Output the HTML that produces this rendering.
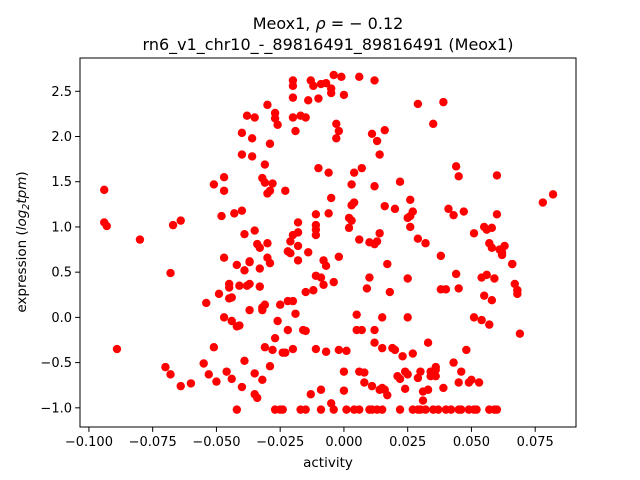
<!DOCTYPE html>
<html><head><meta charset="utf-8"><style>
html,body{margin:0;padding:0;background:#fff;}
svg{display:block;font-family:"DejaVu Sans","Liberation Sans",sans-serif;}
</style></head><body>
<svg id="chart" width="640" height="480" viewBox="0 0 640 480" xmlns="http://www.w3.org/2000/svg">
<rect width="640" height="480" fill="#fff"/>
<text x="328" y="29" text-anchor="middle" font-size="16">Meox1, <tspan font-style="italic">ρ</tspan> = − 0.12</text>
<text x="328" y="50" text-anchor="middle" font-size="16">rn6_v1_chr10_-_89816491_89816491 (Meox1)</text>
<g id="points"></g>
<rect x="80" y="58" width="496" height="369" fill="none" stroke="#000" stroke-width="1"/>
<g id="xaxis"></g>
<g id="yaxis"></g>
<text x="328" y="467" text-anchor="middle" font-size="13.5">activity</text>
<text transform="translate(26,242) rotate(-90)" text-anchor="middle" font-size="13.5">expression (<tspan font-style="italic">log</tspan><tspan font-size="9.5" dy="3" font-style="italic">2</tspan><tspan dy="-3" font-style="italic">tpm</tspan>)</text>
</svg>
<script>
const xTicks=[-0.100,-0.075,-0.050,-0.025,0.000,0.025,0.050,0.075];
const xTickLabels=["−0.100","−0.075","−0.050","−0.025","0.000","0.025","0.050","0.075"];
const yTicks=[-1.0,-0.5,0.0,0.5,1.0,1.5,2.0,2.5];
const yTickLabels=["−1.0","−0.5","0.0","0.5","1.0","1.5","2.0","2.5"];
const activity=[-0.094,-0.094,-0.093,-0.089,-0.080,-0.070,-0.068,-0.068,-0.067,-0.064,-0.064,-0.060,-0.055,-0.054,-0.053,-0.051,-0.051,-0.050,-0.049,-0.048,-0.047,-0.047,-0.047,-0.047,-0.046,-0.045,-0.045,-0.045,-0.044,-0.044,-0.044,-0.043,-0.042,-0.042,-0.042,-0.041,-0.041,-0.040,-0.040,-0.040,-0.040,-0.039,-0.039,-0.039,-0.038,-0.038,-0.037,-0.037,-0.037,-0.037,-0.036,-0.036,-0.035,-0.035,-0.035,-0.035,-0.034,-0.034,-0.033,-0.033,-0.033,-0.032,-0.032,-0.032,-0.032,-0.031,-0.031,-0.031,-0.031,-0.030,-0.030,-0.030,-0.030,-0.029,-0.029,-0.029,-0.029,-0.028,-0.028,-0.027,-0.027,-0.027,-0.027,-0.026,-0.026,-0.025,-0.025,-0.024,-0.024,-0.023,-0.023,-0.022,-0.022,-0.022,-0.021,-0.021,-0.020,-0.020,-0.020,-0.020,-0.020,-0.020,-0.020,-0.019,-0.019,-0.018,-0.018,-0.018,-0.018,-0.017,-0.017,-0.016,-0.015,-0.015,-0.015,-0.015,-0.014,-0.014,-0.013,-0.013,-0.012,-0.012,-0.011,-0.011,-0.011,-0.011,-0.011,-0.011,-0.010,-0.010,-0.009,-0.009,-0.009,-0.009,-0.008,-0.008,-0.007,-0.007,-0.007,-0.006,-0.006,-0.005,-0.005,-0.005,-0.005,-0.004,-0.004,-0.004,-0.003,-0.003,-0.002,-0.002,-0.002,-0.001,0.000,0.000,0.000,0.001,0.001,0.002,0.002,0.003,0.003,0.003,0.004,0.004,0.004,0.005,0.005,0.006,0.006,0.006,0.006,0.007,0.007,0.008,0.008,0.009,0.010,0.010,0.010,0.011,0.011,0.011,0.012,0.012,0.012,0.012,0.012,0.013,0.013,0.013,0.014,0.014,0.014,0.015,0.015,0.015,0.015,0.016,0.016,0.016,0.017,0.017,0.018,0.019,0.020,0.020,0.021,0.022,0.022,0.022,0.023,0.024,0.024,0.025,0.025,0.025,0.025,0.026,0.026,0.026,0.027,0.027,0.027,0.029,0.029,0.029,0.029,0.030,0.030,0.031,0.031,0.032,0.032,0.033,0.033,0.034,0.034,0.035,0.035,0.036,0.036,0.036,0.037,0.038,0.038,0.039,0.039,0.040,0.040,0.041,0.042,0.043,0.043,0.044,0.044,0.045,0.045,0.045,0.045,0.046,0.046,0.047,0.048,0.049,0.049,0.050,0.051,0.051,0.051,0.052,0.053,0.054,0.054,0.055,0.055,0.056,0.056,0.057,0.057,0.057,0.058,0.058,0.058,0.059,0.059,0.060,0.060,0.060,0.061,0.062,0.062,0.063,0.066,0.066,0.067,0.068,0.068,0.068,0.069,0.078,0.082];
const expression=[1.41,1.05,1.01,-0.35,0.86,-0.55,-0.63,0.49,1.02,1.07,-0.76,-0.73,-0.51,0.16,-0.63,-0.33,1.47,-0.71,0.26,1.12,0.66,1.55,1.40,0.00,-0.60,0.33,0.21,0.37,-0.04,-0.68,0.22,1.15,0.58,-1.02,-0.10,0.35,-0.09,1.80,2.04,-0.77,1.18,0.92,-0.48,0.52,0.35,2.23,0.61,0.62,0.37,0.08,1.98,1.78,0.96,-0.62,-0.85,2.21,-0.89,0.81,0.77,0.34,0.54,0.08,0.11,-0.69,1.54,1.69,0.14,1.49,-0.33,2.35,1.37,0.66,0.82,1.92,-0.54,1.40,0.60,-0.36,1.48,2.26,2.20,-0.23,-1.02,2.13,-0.04,0.14,-1.02,-0.39,-1.02,-0.39,1.40,0.73,-0.14,0.18,0.71,0.84,2.43,2.56,2.62,0.91,-0.35,2.21,0.18,2.06,0.04,0.79,1.05,0.94,0.63,-1.02,2.23,-0.14,-0.15,-1.02,0.28,2.21,2.40,0.72,2.62,-0.85,0.30,2.56,0.91,0.46,-0.35,1.14,1.02,0.97,2.42,1.65,-0.80,0.44,-1.02,2.58,0.36,0.63,0.57,2.59,-0.38,1.15,1.60,-0.95,2.53,2.48,1.32,2.68,-1.02,0.39,1.98,2.14,0.67,2.06,-0.36,2.66,-0.60,-0.81,2.46,-1.02,-0.37,1.10,0.99,1.47,1.07,1.24,-1.02,1.27,1.60,0.03,-0.14,2.66,-0.60,0.86,-1.02,-0.14,1.65,-0.72,-0.61,0.32,-1.02,0.44,0.83,2.03,-0.76,-1.02,2.62,-0.14,0.81,1.45,-0.28,1.95,-1.02,0.84,-0.80,1.80,0.93,-0.78,0.00,-1.02,-0.34,2.07,1.23,-0.80,-0.86,0.59,0.28,-0.34,1.20,-0.36,-0.65,1.50,-1.02,-0.68,-0.43,-0.60,-0.79,0.00,-0.63,0.43,1.10,1.00,1.30,1.12,-0.40,-1.02,1.17,2.36,-1.02,-0.67,0.87,-1.02,-0.60,-0.82,-0.92,0.82,-1.02,-0.28,-0.80,-0.65,-0.60,-1.02,2.14,-0.55,-0.65,-0.58,-1.02,0.68,0.31,2.38,-0.78,0.31,-1.02,1.20,-1.02,1.13,-0.50,1.67,0.48,0.32,-1.02,1.56,-0.72,-0.60,-1.02,1.17,-0.36,-0.72,-1.02,-0.69,0.93,0.00,-1.02,-1.02,-0.72,-0.03,0.44,0.24,1.00,0.47,0.97,-0.08,-1.02,0.82,0.19,0.99,0.77,0.43,-1.02,1.57,1.14,-1.02,0.75,0.69,0.72,0.79,0.59,0.59,0.37,0.30,0.30,0.26,-0.18,1.27,1.36];

const X0=80,X1=576,Y0=58,Y1=427;
const xMin=-0.1035,xMax=0.0910,yMin=-1.212,yMax=2.868;
const sx=v=>X0+(v-xMin)/(xMax-xMin)*(X1-X0);
const sy=v=>Y1-(v-yMin)/(yMax-yMin)*(Y1-Y0);
const NS="http://www.w3.org/2000/svg";
const pts=document.getElementById('points');
for(let i=0;i<activity.length;i++){
  const c=document.createElementNS(NS,'circle');
  c.setAttribute('cx',sx(activity[i]));
  c.setAttribute('cy',sy(expression[i]));
  c.setAttribute('r',4.2);
  c.setAttribute('fill','#ff0000');
  
  
  pts.appendChild(c);
}
const xa=document.getElementById('xaxis');
xTicks.forEach((t,i)=>{
  const x=sx(t);
  const l=document.createElementNS(NS,'line');
  l.setAttribute('x1',x);l.setAttribute('x2',x);l.setAttribute('y1',Y1);l.setAttribute('y2',Y1+4.9);
  l.setAttribute('stroke','#000');
  
  
  xa.appendChild(l);
  const tx=document.createElementNS(NS,'text');
  tx.setAttribute('x',x);tx.setAttribute('y',Y1+19);tx.setAttribute('text-anchor','middle');tx.setAttribute('font-size','13');
  tx.textContent=xTickLabels[i];
  
  
  xa.appendChild(tx);
});
const ya=document.getElementById('yaxis');
yTicks.forEach((t,i)=>{
  const y=sy(t);
  const l=document.createElementNS(NS,'line');
  l.setAttribute('x1',X0-4.9);l.setAttribute('x2',X0);l.setAttribute('y1',y);l.setAttribute('y2',y);
  l.setAttribute('stroke','#000');
  
  
  ya.appendChild(l);
  const tx=document.createElementNS(NS,'text');
  tx.setAttribute('x',X0-8);tx.setAttribute('y',y+4.5);tx.setAttribute('text-anchor','end');tx.setAttribute('font-size','13');
  tx.textContent=yTickLabels[i];
  
  
  ya.appendChild(tx);
});
</script>
</body></html>
